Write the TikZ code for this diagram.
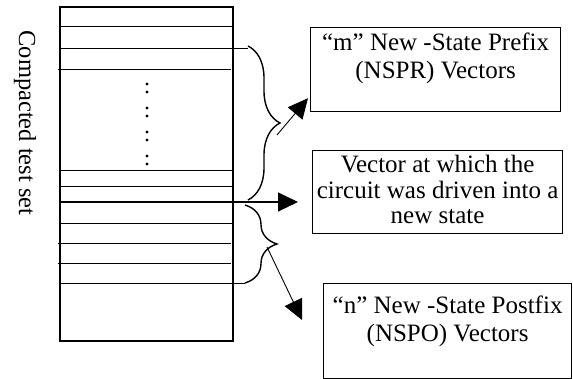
\documentclass[tikz,border=0pt]{standalone}
\usepackage{fontspec}
\setmainfont{Liberation Serif}
\usetikzlibrary{
  arrows.meta,
  positioning,
  calc,
  decorations.pathreplacing
}

\begin{document}
\begin{tikzpicture}[
    x=1pt, y=-1pt,
    >={Triangle[length=20pt,width=19pt]},
    caixa/.style={draw, line width=1.2pt, inner sep=0pt, anchor=north west,
      font=\fontsize{25}{27.5}\selectfont},
    chave/.style={decorate, decoration={brace, amplitude=32pt}, line width=1.4pt},
    linha/.style={line width=0.9pt}
    ]
    \useasboundingbox (0,0) rectangle (573,379);

    % conjunto de testes
    \draw[line width=1.1pt] (60,7) rectangle (233,341);
    \foreach \y in {26,170,186,223}
      \draw[linha] (60,\y) -- (233,\y);
    \foreach \y in {69,243,263}
      \draw[linha] (58,\y) -- (231,\y);
    \draw[linha] (60,48) -- (248,48);
    \draw[linha] (60,283) -- (245,283);
    \draw[line width=2pt] (60,202) -- (242,202);

    % pontos
    \foreach \y in {88,112,136,160}{
      \fill (147,\y-4) circle (1.7pt);
      \fill (147,\y+4) circle (1.7pt);
    }

    \node[rotate=-90, font=\fontsize{24.5}{27}\selectfont] (rotulo)
    at (25,123) {Compacted test set};

    % caixas
    \node[caixa] (nspr) at (310,27)
    {\parbox[t][84pt][t]{250pt}{\centering\rule{0pt}{23pt}“m” New -State Prefix\\(NSPR) Vectors}};

    \node[caixa, font=\fontsize{25}{25.5}\selectfont] (vec) at (312,150)
    {\parbox[t][83pt][t]{250pt}{\centering\rule{0pt}{22pt}Vector at which the\\circuit was driven into a\\new state}};

    \node[caixa] (nspo) at (323,283)
    {\parbox[t][95pt][t]{248pt}{\centering\rule{0pt}{30pt}“n” New -State Postfix\\(NSPO) Vectors}};

    % chaves
    \draw[chave] (248,46) -- (248,200);
    \draw[chave] (245,205) -- (245,283);

    % setas
    \coordinate (c1) at (277,135);
    \coordinate (c2) at (242,202);
    \coordinate (c3) at (267,247);

    \draw[->, line width=0.9pt] (c1) -- ($(nspr.south west)+(-2,-14)$);
    \draw[->, line width=1.1pt, shorten >=14pt] (c2) -- (c2 -| vec.west);
    \draw[->, line width=0.9pt] (c3) -- ($(nspo.north west)+(-21,37)$);

\end{tikzpicture}
\end{document}
